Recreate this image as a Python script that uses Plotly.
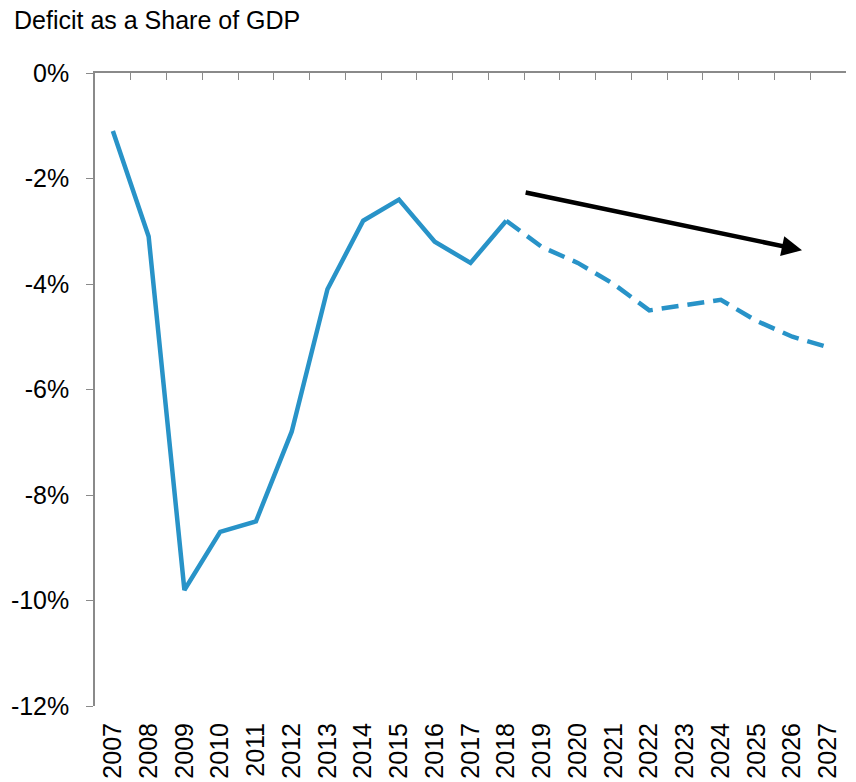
import plotly.graph_objects as go

years_actual = [2007, 2008, 2009, 2010, 2011, 2012, 2013, 2014, 2015, 2016, 2017, 2018]
deficit_actual = [-1.1, -3.1, -9.8, -8.7, -8.5, -6.8, -4.1, -2.8, -2.4, -3.2, -3.6, -2.8]
years_proj = [2018, 2019, 2020, 2021, 2022, 2023, 2024, 2025, 2026, 2027]
deficit_proj = [-2.8, -3.3, -3.6, -4.0, -4.5, -4.4, -4.3, -4.7, -5.0, -5.2]
all_years = list(range(2007, 2028))
y_ticks = [0, -2, -4, -6, -8, -10, -12]
y_labels = ["0%", "-2%", "-4%", "-6%", "-8%", "-10%", "-12%"]
# trend arrow: tail and head, in data units
arrow_tail = (2018.5, -2.26)
arrow_head = (2026.27, -3.36)

blue = "#2893C8"
gray = "#8A8A8A"
font = "Liberation Sans, Arial, sans-serif"

fig = go.Figure()
fig.add_trace(go.Scatter(x=years_actual, y=deficit_actual, mode="lines",
                         line=dict(color=blue, width=4.5), showlegend=False))
fig.add_trace(go.Scatter(x=years_proj, y=deficit_proj, mode="lines",
                         line=dict(color=blue, width=4.5, dash="17px,9px"), showlegend=False))
# invisible trace so the top axis is drawn
fig.add_trace(go.Scatter(x=[all_years[0]], y=[0], xaxis="x2", mode="markers",
                         marker=dict(opacity=0), showlegend=False, hoverinfo="skip"))

fig.add_annotation(x=arrow_head[0], y=arrow_head[1], ax=arrow_tail[0], ay=arrow_tail[1],
                   xref="x", yref="y", axref="x", ayref="y", text="", showarrow=True,
                   arrowhead=2, arrowsize=0.9, arrowwidth=4.5, arrowcolor="black")

rng = [all_years[0] - 0.5, all_years[-1] + 0.5]
fig.update_layout(
    width=856, height=782,
    margin=dict(l=95, r=10, t=73, b=76),
    plot_bgcolor="white", paper_bgcolor="white",
    font=dict(family=font, size=25, color="black"),
    title=dict(text="Deficit as a Share of GDP", x=14 / 856, xanchor="left",
               y=1 - 20 / 782, yanchor="middle", font=dict(size=25), automargin=False),
    xaxis=dict(range=rng, tickmode="array", tickvals=all_years,
               ticktext=[str(y) for y in all_years], tickangle=-90, automargin=False,
               ticklabelstandoff=11,
               showline=False, showgrid=False, zeroline=False, ticks=""),
    xaxis2=dict(range=rng, overlaying="x", side="top", anchor="y", automargin=False,
                tickmode="array", tickvals=[y + 0.5 for y in [all_years[0] - 1] + all_years],
                showticklabels=False, ticks="inside", ticklen=7, tickcolor=gray,
                showline=True, linecolor=gray, linewidth=1.5, showgrid=False, zeroline=False),
    yaxis=dict(range=[-12, 0], tickmode="array", tickvals=y_ticks, ticktext=y_labels,
               ticks="outside", ticklen=7, tickcolor=gray, showline=True, automargin=False,
               ticklabelstandoff=12,
               linecolor=gray, linewidth=1.5, showgrid=False, zeroline=False),
)

fig.write_html("out.html", config={"displayModeBar": False},
               post_script="document.body.style.margin='0';")
